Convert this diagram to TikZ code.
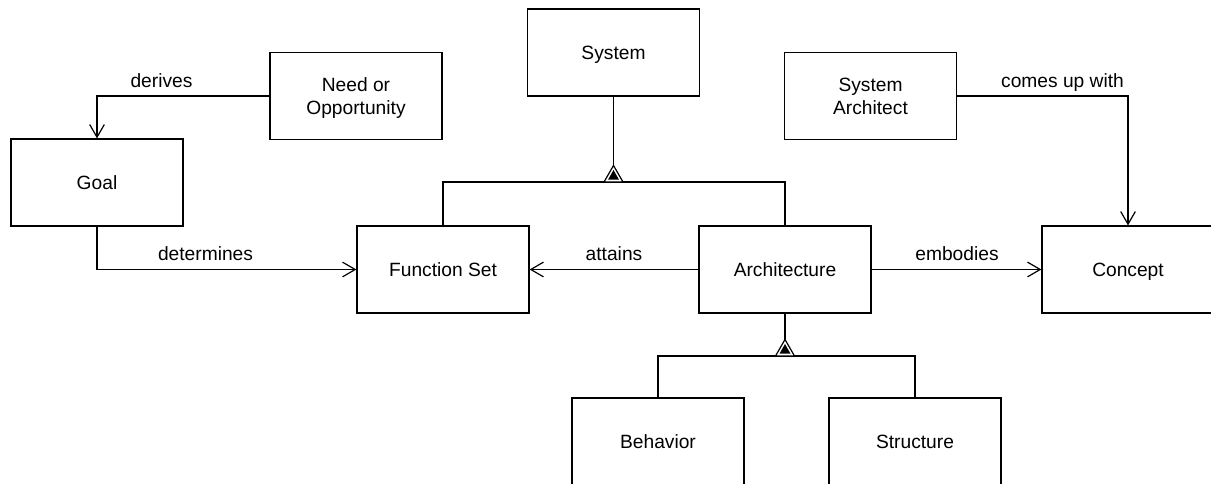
\documentclass[tikz,border=0pt]{standalone}
\usepackage{fontspec}
\setmainfont{Liberation Sans}
\usetikzlibrary{arrows.meta,calc}
\begin{document}
\begin{tikzpicture}[x=0.75pt,y=-0.75pt,
  font=\fontsize{14.4}{17.3}\selectfont,
  line width=0.9pt,
  box/.style={draw,minimum width=129pt,minimum height=65.25pt,inner sep=0pt,
    align=center,text depth=0pt},
  rel/.style={-{Straight Barb[length=9.5pt,width=11pt]}},
  lbl/.style={anchor=base,inner sep=0pt},
  aggmark/.pic={
    \draw[fill=white] (-9.5,0) -- (0,-16.5) -- (9.5,0) -- cycle;
    \fill (-5.5,-2.3) -- (0,-12) -- (5.5,-2.3) -- cycle;
  }]
  \fill[white] (0,0) rectangle (1211,484);
  \useasboundingbox (0,0) rectangle (1211,484);

  % classes
  \node[box] (goal)   at (97,182.5)   {Goal};
  \node[box] (need)   at (356,96)     {Need or\\Opportunity};
  \node[box] (system) at (613.5,52.5) {System};
  \node[box] (sysarch) at (870.5,96)  {System\\Architect};
  \node[box] (fset)   at (443,269.5)  {Function Set};
  \node[box] (arch)   at (785,269.5)  {Architecture};
  \node[box] (concept) at (1128,269.5) {Concept};
  \node[box] (behav)  at (658,441.5)  {Behavior};
  \node[box] (struct) at (915,441.5)  {Structure};

  % associations
  \draw[rel] (need.west) -| (goal.north);
  \draw[rel] (goal.south) |- (fset.west);
  \draw[rel] (arch.west) -- (fset.east);
  \draw[rel] (arch.east) -- (concept.west);
  \draw[rel] (sysarch.east) -| (concept.north);

  \node[lbl] (lderives) at (161.5,88)  {derives};
  \node[lbl] (ldeterm)  at (205.5,261) {determines};
  \node[lbl] (lattains) at (614,261)   {attains};
  \node[lbl] (lembod)   at (957,261)   {embodies};
  \node[lbl] (lcomes)   at (1062.5,88) {comes up with};

  % aggregation: System has Function Set and Architecture
  \coordinate (aggA) at (system.south |- 0,182);
  \draw (fset.north) |- (aggA) -| (arch.north);
  \draw (system.south) -- ($(aggA)+(0,-16)$);
  \pic at (aggA) {aggmark};

  % aggregation: Architecture has Behavior and Structure
  \coordinate (aggB) at (arch.south |- 0,356);
  \draw (behav.north) |- (aggB) -| (struct.north);
  \draw (arch.south) -- ($(aggB)+(0,-16)$);
  \pic at (aggB) {aggmark};
\end{tikzpicture}
\end{document}
